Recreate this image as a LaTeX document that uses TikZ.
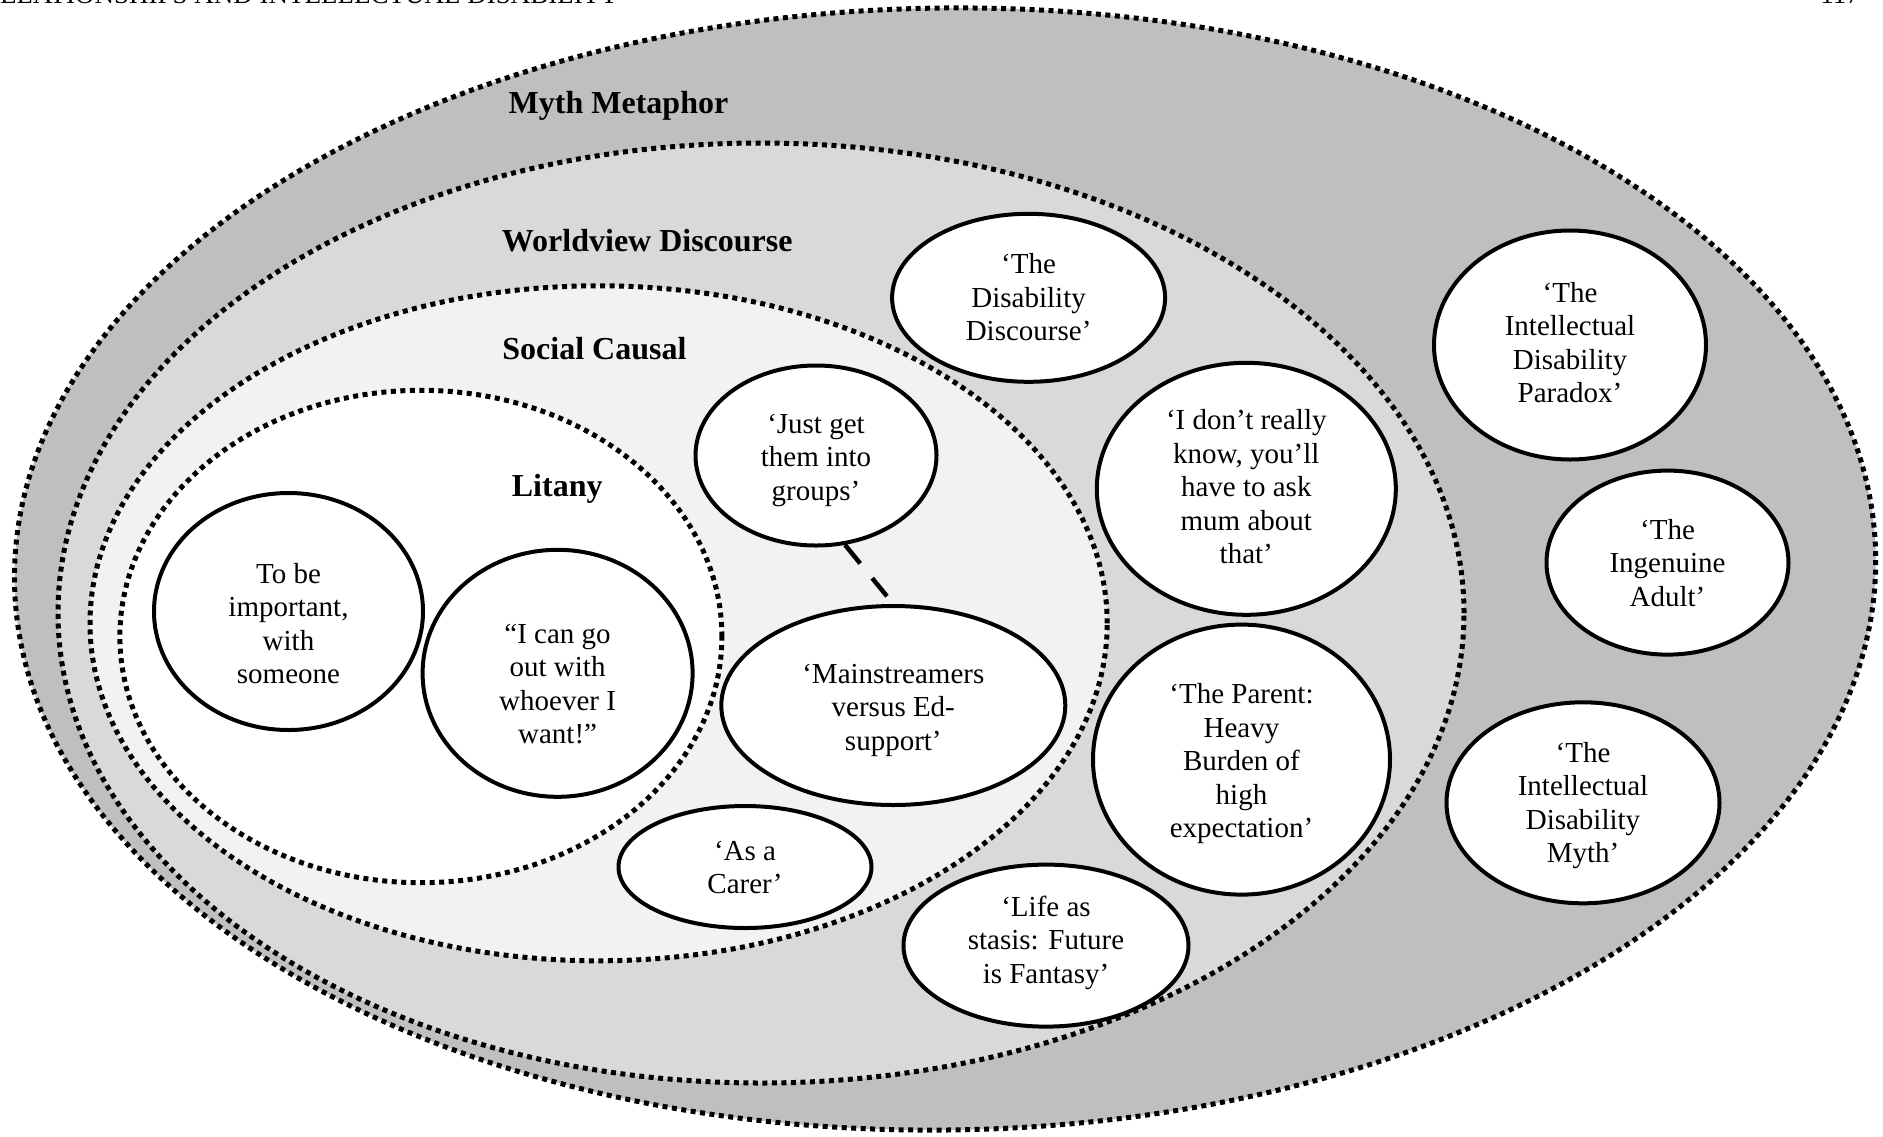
\documentclass[tikz,border=0pt]{standalone}
\usepackage{fontspec}
\setmainfont{Liberation Serif}
\usetikzlibrary{shapes.geometric}
\definecolor{mythgray}{HTML}{BFBFBF}
\definecolor{worldgray}{HTML}{D9D9D9}
\definecolor{socialgray}{HTML}{F2F2F2}
% centred lines, dropped by #1 inside their ellipse
\newcommand{\lowered}[2]{\raisebox{-#1}[\height][\depth]{\begin{tabular}{@{}c@{}}#2\end{tabular}}}

\begin{document}
\begin{tikzpicture}[x=1pt,y=-1pt,
  layer/.style={draw=black, line width=5pt, dash pattern=on 5pt off 4.5pt},
  theme/.style={ellipse, draw=black, line width=4pt, fill=white, inner sep=0pt,
    align=center, font=\fontsize{29}{33.5}\selectfont},
  heading/.style={anchor=base, inner sep=0pt, font=\fontsize{32}{38}\selectfont\bfseries},
  link/.style={line width=4.5pt, dash pattern=on 24pt off 19pt},
  runner/.style={inner sep=0pt, font=\fontsize{27}{30}\selectfont}
]
\useasboundingbox (0,0) rectangle (1883,1136);

% running head, cut by the top edge of the page
\node[runner, anchor=base west] (runhead) at (-18,3) {RELATIONSHIPS AND INTELLECTUAL DISABILITY};
\node[runner, anchor=base east] (folio) at (1860,3) {117};

% nested layers, outermost first
\filldraw[layer, fill=mythgray]   (945.1,569) ellipse [x radius=930.7pt, y radius=561pt, rotate=0.8];
\filldraw[layer, fill=worldgray]  (761,613)   ellipse [x radius=703pt,   y radius=470pt];
\filldraw[layer, fill=socialgray] (598.6,623.3) ellipse [x radius=508.6pt, y radius=337.5pt];
\filldraw[layer, fill=white]      (420.9,636.5) ellipse [x radius=301pt,   y radius=246.2pt];

% layer headings
\node[heading] (hmyth)   at (618.5,113) {Myth Metaphor};
\node[heading] (hworld)  at (647.3,251) {Worldview Discourse};
\node[heading] (hsocial) at (594.4,359) {Social Causal};
\node[heading] (hlitany) at (557.2,496) {Litany};

% themes
\node[theme, minimum width=269pt, minimum height=237pt] (n1) at (288.5,611.5)
  {\lowered{15.5pt}{To be\\important,\\with\\someone}};
\node[theme, minimum width=270pt, minimum height=247pt] (n2) at (557.6,673.3)
  {\lowered{13.5pt}{“I can go\\out with\\whoever I\\want!”}};
\node[theme, minimum width=241pt, minimum height=180pt] (n3) at (816,455.5)
  {\lowered{4.5pt}{‘Just get\\them into\\groups’}};
\node[theme, minimum width=344pt, minimum height=199pt] (n4) at (893.3,705.5)
  {\lowered{4.5pt}{‘Mainstreamers\\versus Ed-\\support’}};
\node[theme, minimum width=253pt, minimum height=122pt] (n5) at (745,867)
  {\lowered{3.5pt}{‘As a\\Carer’}};
\node[theme, minimum width=273pt, minimum height=168pt] (n6) at (1028.6,297.8)
  {\lowered{2.5pt}{‘The\\Disability\\Discourse’}};
\node[theme, minimum width=299pt, minimum height=252pt] (n7) at (1246.3,488.8)
  {\lowered{1pt}{‘I don’t really\\know, you’ll\\have to ask\\mum about\\that’}};
\node[theme, minimum width=297pt, minimum height=270pt] (n8) at (1241.5,759.6)
  {\lowered{4.5pt}{‘The Parent:\\Heavy\\Burden of\\high\\expectation’}};
\node[theme, minimum width=285pt, minimum height=162pt] (n9) at (1046,945.6)
  {\lowered{-2.5pt}{‘Life as\\stasis: Future\\is Fantasy’}};
\node[theme, minimum width=272pt, minimum height=229pt] (n10) at (1570,345)
  {\lowered{1pt}{‘The\\Intellectual\\Disability\\Paradox’}};
\node[theme, minimum width=242pt, minimum height=184pt] (n11) at (1667.5,562.6)
  {‘The\\Ingenuine\\Adult’};
\node[theme, minimum width=273pt, minimum height=201pt] (n12) at (1583,802.8)
  {\lowered{3pt}{‘The\\Intellectual\\Disability\\Myth’}};

% link between the two social-causal themes
\draw[link, shorten >=10pt] (n3.-72) -- (n4.north);
\end{tikzpicture}
\end{document}
